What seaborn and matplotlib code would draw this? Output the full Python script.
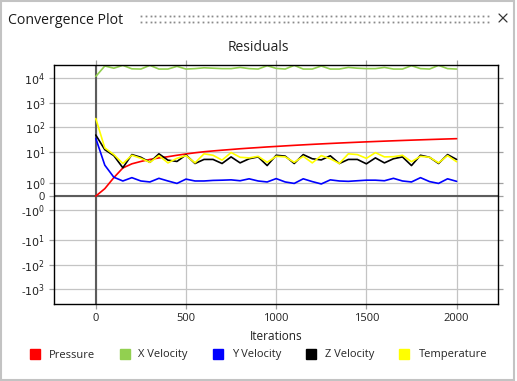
import numpy as np
import pandas as pd
import matplotlib
matplotlib.use("Agg")
import matplotlib.pyplot as plt
import seaborn as sns
from matplotlib.lines import Line2D
from matplotlib.patches import Rectangle
from matplotlib.ticker import FixedLocator, NullLocator

# ---------------- data ----------------
iterations = list(range(0, 2001, 50))

series_names = ["Pressure", "X Velocity", "Y Velocity", "Z Velocity", "Temperature"]
series_colors = ["#ff0000", "#92d050", "#0000ff", "#000000", "#ffff00"]

pressure = [0, 0.55, 1.45, 3.0, 4.1, 4.9, 5.7, 6.4, 7.0, 7.8, 8.6,
            9.4, 10.2, 11.0, 11.8, 12.6, 13.5, 14.3, 15.1, 16.0, 16.8,
            17.7, 18.6, 19.5, 20.4, 21.3, 22.2, 23.1, 24.0, 24.9, 25.8,
            26.7, 27.6, 28.5, 29.4, 30.3, 31.2, 32.1, 33.0, 33.9, 34.8]

x_velocity = [12000, 32000, 26000, 34000, 24500, 24000, 34000, 24000, 24000, 31000, 24000,
              25000, 27000, 26000, 25000, 25000, 28000, 25000, 24000, 33000, 25500,
              24000, 34000, 24000, 24000, 32000, 24000, 24000, 28000, 26000, 25000,
              25000, 28000, 24000, 24000, 33000, 25000, 24000, 34000, 25000, 24000]

y_velocity = [36, 3.7, 1.5, 1.13, 1.45, 1.13, 1.05, 1.38, 1.13, 0.94, 1.3,
              1.13, 1.13, 1.18, 1.2, 1.23, 1.15, 1.33, 1.13, 1.05, 1.35,
              1.05, 0.94, 1.33, 1.08, 0.9, 1.23, 1.13, 1.1, 1.15, 1.2,
              1.2, 1.15, 1.38, 1.13, 1.05, 1.45, 1.08, 0.94, 1.33, 1.1]

z_velocity = [49, 12.4, 7.6, 3.05, 8.2, 6.7, 4.6, 8.7, 5.4, 4.9, 8.0,
              4.2, 5.7, 5.7, 4.2, 6.9, 4.4, 6.0, 6.9, 3.6, 7.8,
              7.3, 4.2, 8.2, 6.0, 5.5, 7.5, 4.2, 5.7, 5.7, 4.1,
              6.4, 4.4, 6.0, 6.9, 3.6, 7.8, 6.7, 4.2, 8.2, 5.7]

temperature = [230, 14.5, 8.2, 4.2, 7.8, 6.2, 4.6, 7.6, 4.4, 6.2, 7.6,
               4.4, 8.7, 7.8, 5.4, 9.6, 6.7, 6.4, 7.2, 4.6, 7.2,
               6.9, 4.6, 7.2, 4.4, 7.6, 6.0, 4.2, 8.7, 8.2, 6.2,
               9.5, 6.9, 7.0, 7.8, 4.8, 7.2, 6.7, 4.4, 7.6, 4.8]

y_tick_values = [-1000, -100, -10, -1, 0, 1, 10, 100, 1000, 10000]
y_tick_labels = [r"-$10^{3}$", r"-$10^{2}$", r"-$10^{1}$", r"-$10^{0}$", "0",
                 r"$10^{0}$", r"$10^{1}$", r"$10^{2}$", r"$10^{3}$", r"$10^{4}$"]
x_tick_values = [0, 500, 1000, 1500, 2000]

# ---------------- custom symmetric log scale ----------------
A = 0.55   # width of the linear part |y|<=1
B = 1.25   # width of the 1..10 decade


def fwd(y):
    y = np.asarray(y, dtype=float)
    a = np.abs(y)
    s = np.sign(y)
    la = np.log10(np.maximum(a, 1e-300))
    t = np.where(a <= 1, a * A, np.where(a <= 10, A + B * la, A + B + la - 1))
    return s * t


def inv(t):
    t = np.asarray(t, dtype=float)
    a = np.clip(np.abs(t), 0, 30)
    s = np.sign(t)
    y = np.where(a <= A, a / A,
                 np.where(a <= A + B, 10 ** ((a - A) / B), 10 ** (a - A - B + 1)))
    return s * y


# ---------------- figure ----------------
sns.set_theme(style="white")
plt.rcParams["font.family"] = ["Open Sans", "DejaVu Sans"]
plt.rcParams["mathtext.fontset"] = "dejavusans"

fig = plt.figure(figsize=(5.17, 3.81), dpi=100)
ax = fig.add_axes([0.105, 0.2021, 0.8577, 0.6279])

df = pd.DataFrame({
    "Iteration": iterations,
    "Pressure": pressure,
    "X Velocity": x_velocity,
    "Y Velocity": y_velocity,
    "Z Velocity": z_velocity,
    "Temperature": temperature,
})
long = df.melt(id_vars="Iteration", var_name="Series", value_name="Value")

sns.lineplot(data=long, x="Iteration", y="Value", hue="Series",
             hue_order=series_names, palette=series_colors,
             linewidth=1.2, legend=False, ax=ax, estimator=None)

ax.set_yscale("function", functions=(fwd, inv))
ax.set_ylim(-10 ** 3.6, 10 ** 4.555)
ax.set_xlim(-230, 2228)

ax.yaxis.set_major_locator(FixedLocator(y_tick_values))
ax.set_yticklabels(y_tick_labels)
ax.yaxis.set_minor_locator(NullLocator())
ax.set_xticks(x_tick_values)
ax.set_xticklabels([str(v) for v in x_tick_values])

ax.grid(True, color="#c4c4c4", linewidth=0.9)
ax.set_axisbelow(True)
ax.axhline(0, color="#5c5c5c", linewidth=1.5, zorder=1.5)
ax.axvline(0, color="#5c5c5c", linewidth=1.5, zorder=1.5)

for sp in ax.spines.values():
    sp.set_color("black")
    sp.set_linewidth(1.0)

ax.tick_params(axis="both", which="major", direction="out", length=3.5,
               color="#a0a0a0", width=0.9, labelsize=8, pad=3,
               bottom=True, left=True, top=True, right=True,
               labeltop=False, labelright=False, labelcolor="#222222")
ax.set_xlabel("Iterations", fontsize=8.5, labelpad=4, color="#222222")
ax.set_ylabel("")

# title
fig.text(0.5, 1 - 47.5 / 381, "Residuals", ha="center", va="center",
         fontsize=10, color="#222222")

# legend
handles = [Line2D([], [], marker="s", linestyle="none", markersize=7.5,
                  markerfacecolor=c, markeredgecolor=c) for c in series_colors]
fig.legend(handles, series_names, loc="center", bbox_to_anchor=(0.5, 1 - 355 / 381),
           ncol=5, frameon=False, fontsize=8, handlelength=0.8,
           handletextpad=0.85, columnspacing=2.3)

# window chrome
fig.text(8 / 517, 1 - 20 / 381, "Convergence Plot", ha="left", va="center",
         fontsize=10.2, color="#1a1a1a")
dot_x = np.arange(141, 490, 4.75) / 517
for yy in (15.7, 22.3):
    fig.add_artist(Line2D(dot_x, np.full_like(dot_x, 1 - yy / 381),
                          linestyle="none", marker="s", markersize=1.3,
                          markeredgewidth=0, color="#8a8a8a",
                          transform=fig.transFigure))
for (x0, y0, x1, y1) in ((499, 14, 507, 22), (499, 22, 507, 14)):
    fig.add_artist(Line2D([x0 / 517, x1 / 517], [1 - y0 / 381, 1 - y1 / 381],
                          color="#333333", linewidth=0.9,
                          transform=fig.transFigure))
fig.add_artist(Rectangle((1 / 517, 0.8 / 381), 513 / 517, 379.4 / 381,
                         transform=fig.transFigure, fill=False,
                         edgecolor="#c3c3c3", linewidth=1.5))

fig.savefig("out.png", dpi=100)
